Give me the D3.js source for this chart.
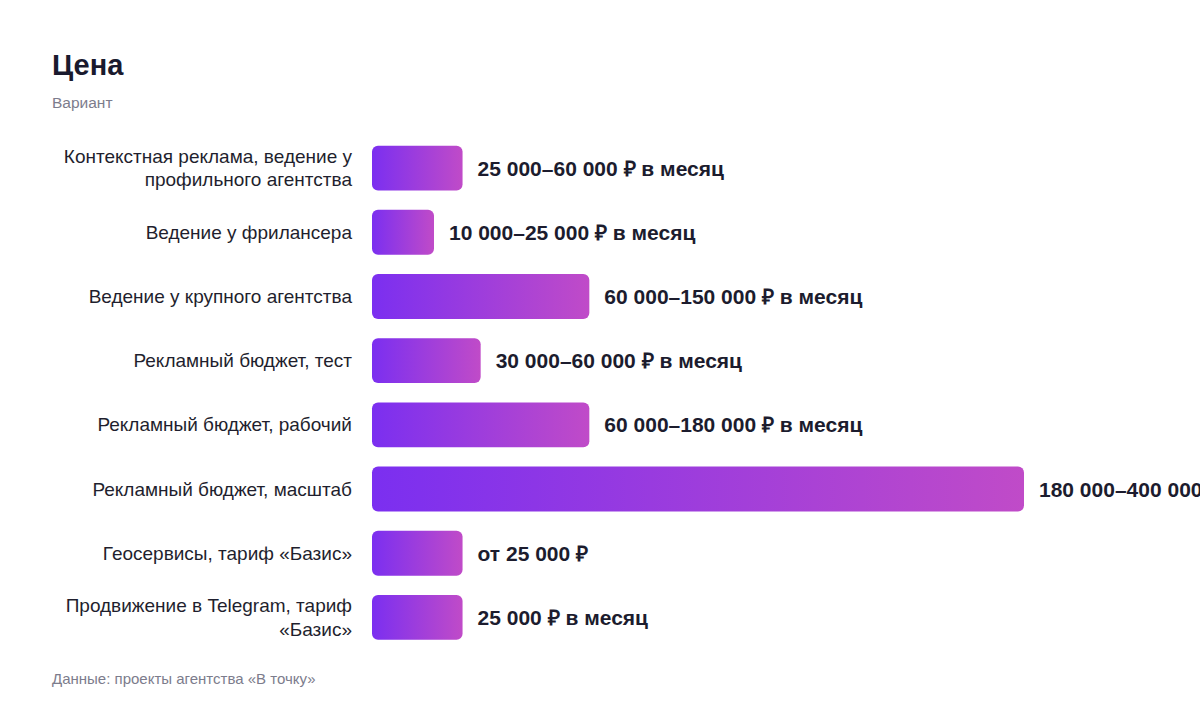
<!DOCTYPE html>
<html>
<head>
<meta charset="utf-8">
<script src="https://cdn.jsdelivr.net/npm/d3@7"></script>
<style>
  body { margin: 0; background: #fff; }
  svg { display: block; font-family: "Liberation Sans", Arial, Helvetica, sans-serif; }
</style>
</head>
<body>
<div id="chart"></div>
<script>
// Data
const categories = [
  "Контекстная реклама, ведение у профильного агентства",
  "Ведение у фрилансера",
  "Ведение у крупного агентства",
  "Рекламный бюджет, тест",
  "Рекламный бюджет, рабочий",
  "Рекламный бюджет, масштаб",
  "Геосервисы, тариф «Базис»",
  "Продвижение в Telegram, тариф «Базис»"
];
// lower bound of each price range, drives bar length
const minPrices = [25000, 10000, 60000, 30000, 60000, 180000, 25000, 25000];
const priceLabels = [
  "25 000–60 000 ₽ в месяц",
  "10 000–25 000 ₽ в месяц",
  "60 000–150 000 ₽ в месяц",
  "30 000–60 000 ₽ в месяц",
  "60 000–180 000 ₽ в месяц",
  "180 000–400 000 ₽ в месяц",
  "от 25 000 ₽",
  "25 000 ₽ в месяц"
];

const data = categories.map((c, i) => ({ name: c, value: minPrices[i], label: priceLabels[i] }));

let width = 1200, height = 712;
let margin = { top: 136, bottom: 62, left: 372, right: 176 };

let svg = d3.select("#chart")
  .append("svg")
  .attr("width", width)
  .attr("height", height);

// gradient for bars
const defs = svg.append("defs");
const grad = defs.append("linearGradient")
  .attr("id", "barGrad")
  .attr("x1", "0%").attr("x2", "100%")
  .attr("y1", "0%").attr("y2", "0%");
grad.append("stop").attr("offset", "0%").attr("stop-color", "#7b2ff0");
grad.append("stop").attr("offset", "100%").attr("stop-color", "#c04bc8");

// Title and subtitle
svg.append("text")
  .attr("x", 52).attr("y", 75)
  .attr("font-size", 29)
  .attr("font-weight", "bold")
  .attr("fill", "#1a1a2e")
  .text("Цена");

svg.append("text")
  .attr("x", 52).attr("y", 108)
  .attr("font-size", 15.5)
  .attr("fill", "#7c7c8c")
  .text("Вариант");

// Scales
const x = d3.scaleLinear()
  .domain([0, d3.max(data, d => d.value)])
  .range([0, width - margin.left - margin.right]);

const y = d3.scaleBand()
  .domain(data.map(d => d.name))
  .range([margin.top, height - margin.bottom - 0.5])
  .paddingInner(0.3)
  .paddingOuter(0.15);

const minBar = 62;
const barW = d => Math.max(minBar, x(d.value));

// Bars
svg.selectAll(".bar")
  .data(data)
  .enter()
  .append("rect")
  .attr("class", "bar")
  .attr("x", margin.left)
  .attr("y", d => y(d.name))
  .attr("width", d => barW(d))
  .attr("height", y.bandwidth())
  .attr("rx", 6)
  .attr("fill", "url(#barGrad)");

// Value labels
svg.selectAll(".val")
  .data(data)
  .enter()
  .append("text")
  .attr("class", "val")
  .attr("x", d => margin.left + barW(d) + 15)
  .attr("y", d => y(d.name) + y.bandwidth() / 2)
  .attr("dy", "0.36em")
  .attr("font-size", 21)
  .attr("font-weight", "bold")
  .attr("fill", "#1c1c2e")
  .text(d => d.label);

// Category labels, wrapped to fit the left column
const labelX = 352, wrapWidth = 300, lineH = 23.5;
const cats = svg.selectAll(".cat")
  .data(data)
  .enter()
  .append("text")
  .attr("class", "cat")
  .attr("text-anchor", "end")
  .attr("font-size", 19)
  .attr("fill", "#1f1f2e");

cats.each(function(d) {
  const t = d3.select(this);
  const words = d.name.split(" ");
  let lines = [], line = [];
  const probe = t.append("tspan");
  words.forEach(w => {
    line.push(w);
    probe.text(line.join(" "));
    if (probe.node().getComputedTextLength() > wrapWidth && line.length > 1) {
      line.pop();
      lines.push(line.join(" "));
      line = [w];
    }
  });
  lines.push(line.join(" "));
  probe.remove();
  const cy = y(d.name) + y.bandwidth() / 2;
  lines.forEach((l, i) => {
    t.append("tspan")
      .attr("x", labelX)
      .attr("y", cy + (i - (lines.length - 1) / 2) * lineH)
      .attr("dy", "0.35em")
      .text(l);
  });
});

// Source note
svg.append("text")
  .attr("x", 52).attr("y", 684)
  .attr("font-size", 15)
  .attr("fill", "#7c7c8c")
  .text("Данные: проекты агентства «В точку»");
</script>
</body>
</html>
